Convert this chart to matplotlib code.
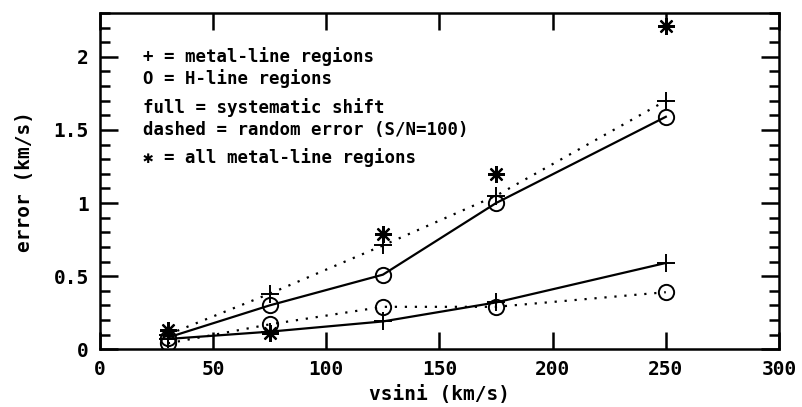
import matplotlib
matplotlib.use("Agg")
import matplotlib.pyplot as plt
from matplotlib.ticker import MultipleLocator

# ── Data ──────────────────────────────────────────────────────────────────────
vsini = [30, 75, 125, 175, 250]

metal_sys  = [0.07, 0.12, 0.19, 0.32, 0.59]   # + , full
h_sys      = [0.08, 0.30, 0.51, 1.00, 1.59]   # O , full
metal_rand = [0.10, 0.38, 0.71, 1.05, 1.70]   # + , dashed
h_rand     = [0.04, 0.17, 0.29, 0.29, 0.39]   # O , dashed
metal_all  = [0.13, 0.11, 0.79, 1.20, 2.21]   # asterisk

legend_lines = [
    "+ = metal-line regions",
    "O = H-line regions",
    "full = systematic shift",
    "dashed = random error (S/N=100)",
    "\u2731 = all metal-line regions",
]

FONT = "DejaVu Sans Mono"

fig = plt.figure(figsize=(8.02, 4.07), dpi=100)
ax = fig.add_axes([0.1247, 0.142, 0.8466, 0.826])

dot = (0, (1, 3.5))
ax.plot(vsini, metal_sys, color="black", lw=1.6, ls="-",
        marker="+", ms=13, mew=1.4)
ax.plot(vsini, h_sys, color="black", lw=1.6, ls="-",
        marker="o", ms=11, mfc="none", mew=1.4)
ax.plot(vsini, metal_rand, color="black", lw=1.6, ls=dot,
        marker="+", ms=13, mew=1.4)
ax.plot(vsini, h_rand, color="black", lw=1.6, ls=dot,
        marker="o", ms=11, mfc="none", mew=1.4)
ax.plot(vsini, metal_all, color="black", ls="none",
        marker=(8, 2, 0), ms=12, mew=1.6)

ax.set_xlim(0, 300)
ax.set_ylim(0, 2.3)
ax.xaxis.set_major_locator(MultipleLocator(50))
ax.yaxis.set_minor_locator(MultipleLocator(0.1))
ax.set_yticks([0, 0.5, 1, 1.5, 2])
ax.set_yticklabels(["0", "0.5", "1", "1.5", "2"])

ax.tick_params(which="both", direction="in", top=True, right=True, width=1.8)
ax.tick_params(which="major", length=13, pad=8)
ax.tick_params(which="minor", length=7)
ax.tick_params(axis="x", which="major", length=12)
for lab in ax.get_xticklabels() + ax.get_yticklabels():
    lab.set_fontfamily(FONT)
    lab.set_fontweight("bold")
    lab.set_fontsize(14)
for sp in ax.spines.values():
    sp.set_linewidth(1.8)

ax.set_xlabel("vsini (km/s)", fontfamily=FONT, fontweight="bold",
              fontsize=14, labelpad=4)
ax.set_ylabel("error (km/s)", fontfamily=FONT, fontweight="bold",
              fontsize=14, labelpad=14)

# text legend inside the axes
ys = [57, 79, 108, 130, 158]
for txt, ypx in zip(legend_lines, ys):
    fig.text(143 / 802, 1 - ypx / 407, txt, ha="left", va="center",
             fontfamily=[FONT, "DejaVu Sans"], fontweight="bold", fontsize=12.5)

fig.savefig("out.png", dpi=100)
